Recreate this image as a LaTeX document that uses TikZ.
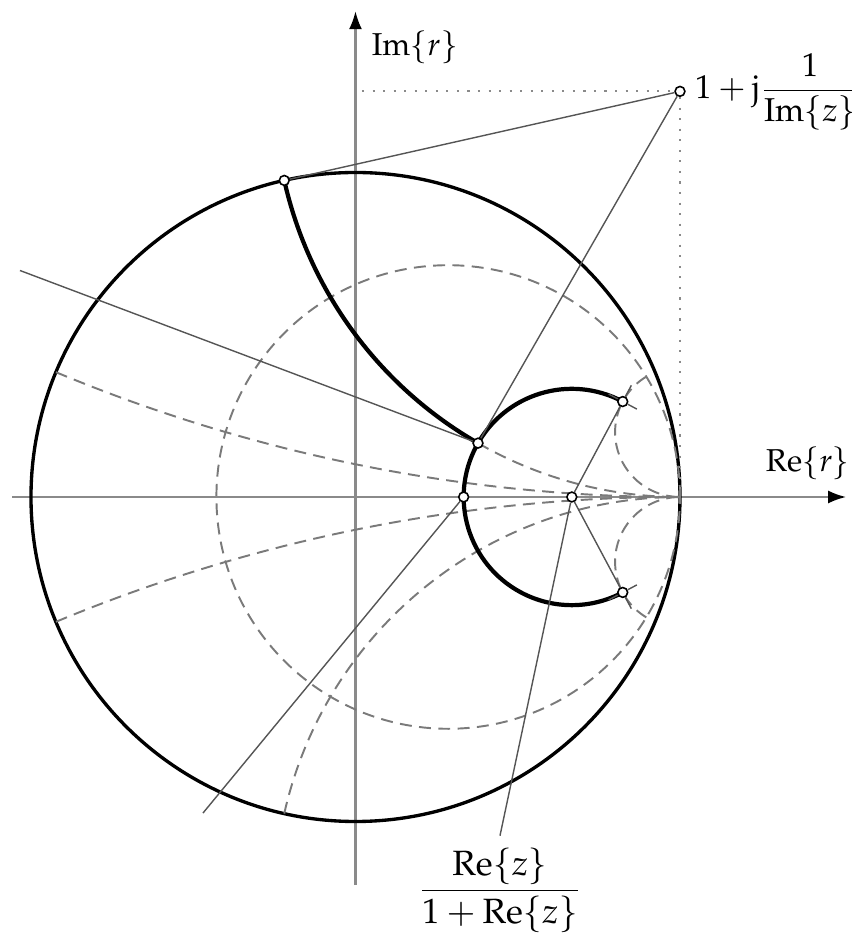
\documentclass[tikz,border=0pt]{standalone}
\usepackage{amsmath}
\usepackage{mathpazo}
\usepackage{tikz}
\usetikzlibrary{arrows.meta,positioning,calc}
\definecolor{axisgray}{HTML}{8A8A8A}
\definecolor{linegray}{HTML}{555555}
\definecolor{dashgray}{HTML}{7A7A7A}
\tikzset{
  axisline/.style={line width=0.6pt, draw=axisgray, -{Latex[length=1.8mm, width=1.3mm, color=black]}},
  rim/.style={line width=0.95pt, draw=black},
  thickarc/.style={line width=1.2pt, draw=black},
  guide/.style={line width=0.4pt, draw=linegray},
  gridarc/.style={line width=0.55pt, draw=dashgray, dash pattern=on 3.4pt off 2.1pt},
  helper/.style={line width=0.5pt, draw=axisgray, dash pattern=on 0.6pt off 2.4pt},
  opendot/.style={circle, draw=black, fill=white, line width=0.45pt, inner sep=0pt, minimum size=2.8pt},
  axislabel/.style={font=\fontsize{9}{11}\selectfont}
}

\begin{document}
\begin{tikzpicture}[x=3.245cm,y=3.245cm]
  \useasboundingbox (-1.0955,-1.3498) rectangle (1.527,1.5316);
  % axes
  \coordinate (xL) at (-1.058,0);
  \coordinate (xR) at (1.512,0);
  \coordinate (yB) at (0,-1.196);
  \coordinate (yT) at (0,1.497);
  \draw[axisline] (xL) -- (xR);
  \draw[axisline] (yB) -- (yT);
  % unit circle and Re{z}=0.4
  \draw[rim] (0,0) circle[radius=1];
  \draw[gridarc] (0.28571,0) circle[radius=0.71429];
  % reactance arcs
  \draw[gridarc] (-0.92308,0.38462) arc[start angle=247.38, end angle=270, radius=5];
  \draw[gridarc] (-0.92308,-0.38462) arc[start angle=112.62, end angle=90, radius=5];
  \draw[gridarc] (0.37759,0.16598) arc[start angle=240.13, end angle=270, radius=1.25];
  \draw[gridarc] (-0.21951,-0.97561) arc[start angle=167.32, end angle=90, radius=1.25];
  \draw[gridarc] (0.89614,0.37092) arc[start angle=121.28, end angle=270, radius=0.2];
  \draw[gridarc] (0.89614,-0.37092) arc[start angle=-121.28, end angle=-270, radius=0.2];
  % Re{z}=2 and Im{z}=0.8
  \draw[thickarc] (0.82353,0.29412) arc[start angle=61.93, end angle=298.07, radius=0.33333];
  \draw[thickarc] (-0.21951,0.97561) arc[start angle=192.68, end angle=240.13, radius=1.25];

  % points
  \node[opendot] (P) at (1,1.25) {};
  \node[opendot] (U) at (-0.21951,0.97561) {};
  \node[opendot] (Z) at (0.37759,0.16598) {};
  \node[opendot] (A) at (0.33333,0) {};
  \node[opendot] (C) at (0.66667,0) {};
  \node[opendot] (T) at (0.82353,0.29412) {};
  \node[opendot] (B) at (0.82353,-0.29412) {};
  \coordinate (yHit) at (0.02,1.25);
  \coordinate (xHit) at (1,0);
  \coordinate (ulEnd) at (-1.034,0.698);
  \coordinate (dlEnd) at (-0.470,-0.974);

  % labels
  \node[right=2.5pt of P, inner sep=0pt, font=\fontsize{9.4}{11}\selectfont] (pLbl) {$1+\mathrm{j}\dfrac{1}{\mathrm{Im}\{z\}}$};
  \node[axislabel] (imLbl) at (0.183,1.387) {$\mathrm{Im}\{r\}$};
  \node[axislabel] (reLbl) at (1.394,0.105) {$\mathrm{Re}\{r\}$};
  \node (fracLbl) at (0.4453,-1.212) {$\dfrac{\mathrm{Re}\{z\}}{1+\mathrm{Re}\{z\}}$};

  % construction lines
  \draw[helper] (yHit) -- (P) -- (xHit);
  \draw[guide] (P) -- (U);
  \draw[guide] (P) -- (Z);
  \draw[guide] (ulEnd) -- (Z);
  \draw[guide] (A) -- (dlEnd);
  \draw[guide] (C) -- (T);
  \draw[guide] (C) -- (B);
  \draw[guide] (fracLbl.north) -- (C);
  \foreach \p in {T,B} {
    \draw[guide] (\p) -- ($(C)!1.17!(\p)$);
    \draw[guide] (\p) -- ($(\p)!1.6mm!90:(C)$);
    \draw[guide] (\p) -- ($(\p)!1.6mm!-90:(C)$);
  }
\end{tikzpicture}
\end{document}
